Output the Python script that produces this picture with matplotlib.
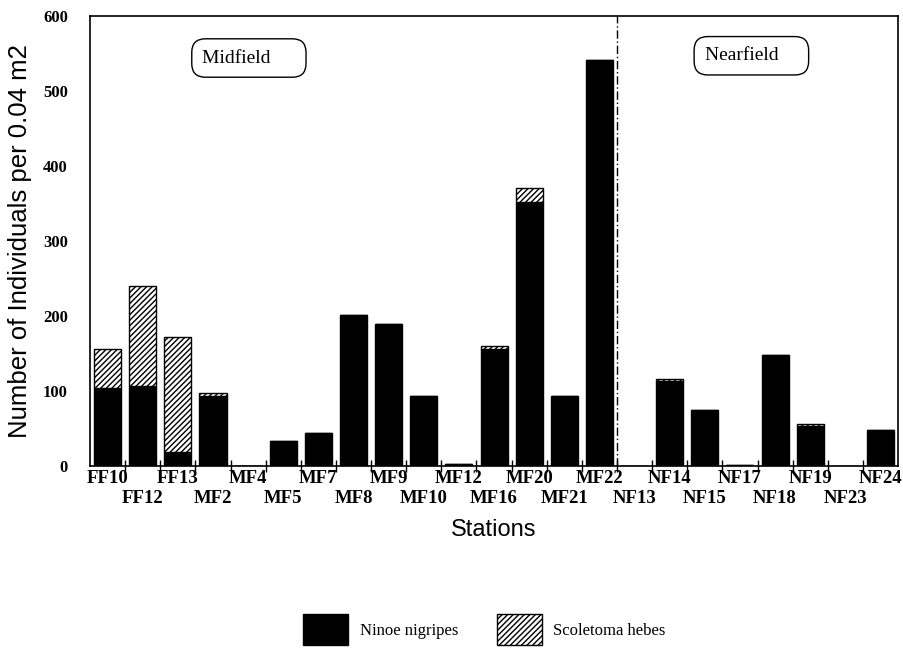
import matplotlib
matplotlib.use("Agg")
import matplotlib.pyplot as plt
import matplotlib.transforms as mtransforms
import numpy as np

stations = ["FF10", "FF12", "FF13", "MF2", "MF4", "MF5", "MF7", "MF8", "MF9",
            "MF10", "MF12", "MF16", "MF20", "MF21", "MF22", "NF13", "NF14",
            "NF15", "NF17", "NF18", "NF19", "NF23", "NF24"]
ninoe = [104, 107, 19, 93, 0, 33, 44, 201, 189, 94, 3, 156, 352, 93, 541,
         0, 114, 75, 1, 148, 54, 0, 48]
scoletoma = [52, 133, 153, 4, 0, 0, 0, 0, 0, 0, 0, 4, 19, 0, 0,
             0, 2, 0, 0, 0, 2, 0, 0]
yticks = [0, 100, 200, 300, 400, 500, 600]

serif = "Liberation Serif"
sans = "Liberation Sans"
plt.rcParams["hatch.linewidth"] = 1.0

fig = plt.figure(figsize=(9.04, 6.56), dpi=100)
ax = fig.add_axes([0.0996, 0.2896, 0.8938, 0.686])

x = np.arange(len(stations))
b1 = ax.bar(x, ninoe, width=0.77, color="black", edgecolor="black",
            linewidth=1, label="Ninoe nigripes")
b2 = ax.bar(x, scoletoma, width=0.77, bottom=ninoe, color="white",
            edgecolor="black", hatch="//////", linewidth=1,
            label="Scoletoma hebes")

ax.set_xlim(-0.5, len(stations) - 0.5)
ax.set_ylim(0, 600)

# divider between midfield and nearfield
ax.axvline(14.5, color="black", lw=1, ls=(0, (6, 2, 1, 2)))

# station labels in two staggered rows
ax.set_xticks(x)
ax.set_xticklabels(stations, fontfamily=serif, fontsize=13.5, fontweight="bold")
ax.tick_params(axis="x", which="major", length=0, pad=3)
shift = mtransforms.ScaledTranslation(0, -0.2, fig.dpi_scale_trans)
for i, lab in enumerate(ax.get_xticklabels()):
    if i % 2 == 1:
        lab.set_transform(lab.get_transform() + shift)
ax.set_xticks(np.arange(0.5, len(stations) - 1, 1), minor=True)
ax.tick_params(axis="x", which="minor", length=8, direction="inout", width=1)

ax.set_yticks(yticks)
ax.set_yticklabels([str(v) for v in yticks], fontfamily=serif, fontsize=12,
                   fontweight="bold")
ax.tick_params(axis="y", length=0, pad=16)

ax.set_ylabel("Number of Individuals per 0.04 m2", fontfamily=sans, fontsize=18.5)
ax.yaxis.set_label_coords(-0.072, 0.5)
ax.set_xlabel("Stations", fontfamily=sans, fontsize=17)
ax.xaxis.set_label_coords(0.5, -0.118)

for sp in ax.spines.values():
    sp.set_linewidth(1.2)

box = dict(boxstyle="round,pad=0.55,rounding_size=0.7", fc="white", ec="black", lw=1)
ax.text(2.7, 544, "Midfield     ", fontfamily=serif, fontsize=14,
        ha="left", va="center", bbox=box)
ax.text(17.0, 547, "Nearfield    ", fontfamily=serif, fontsize=14,
        ha="left", va="center", bbox=box)

fig.legend(handles=[b1, b2], loc="center", bbox_to_anchor=(0.536, 0.04),
           ncol=2, frameon=False, prop={"family": serif, "size": 12},
           handlelength=2.7, handleheight=2.5, handletextpad=0.7,
           columnspacing=2.3)

fig.savefig("out.png", dpi=100)
